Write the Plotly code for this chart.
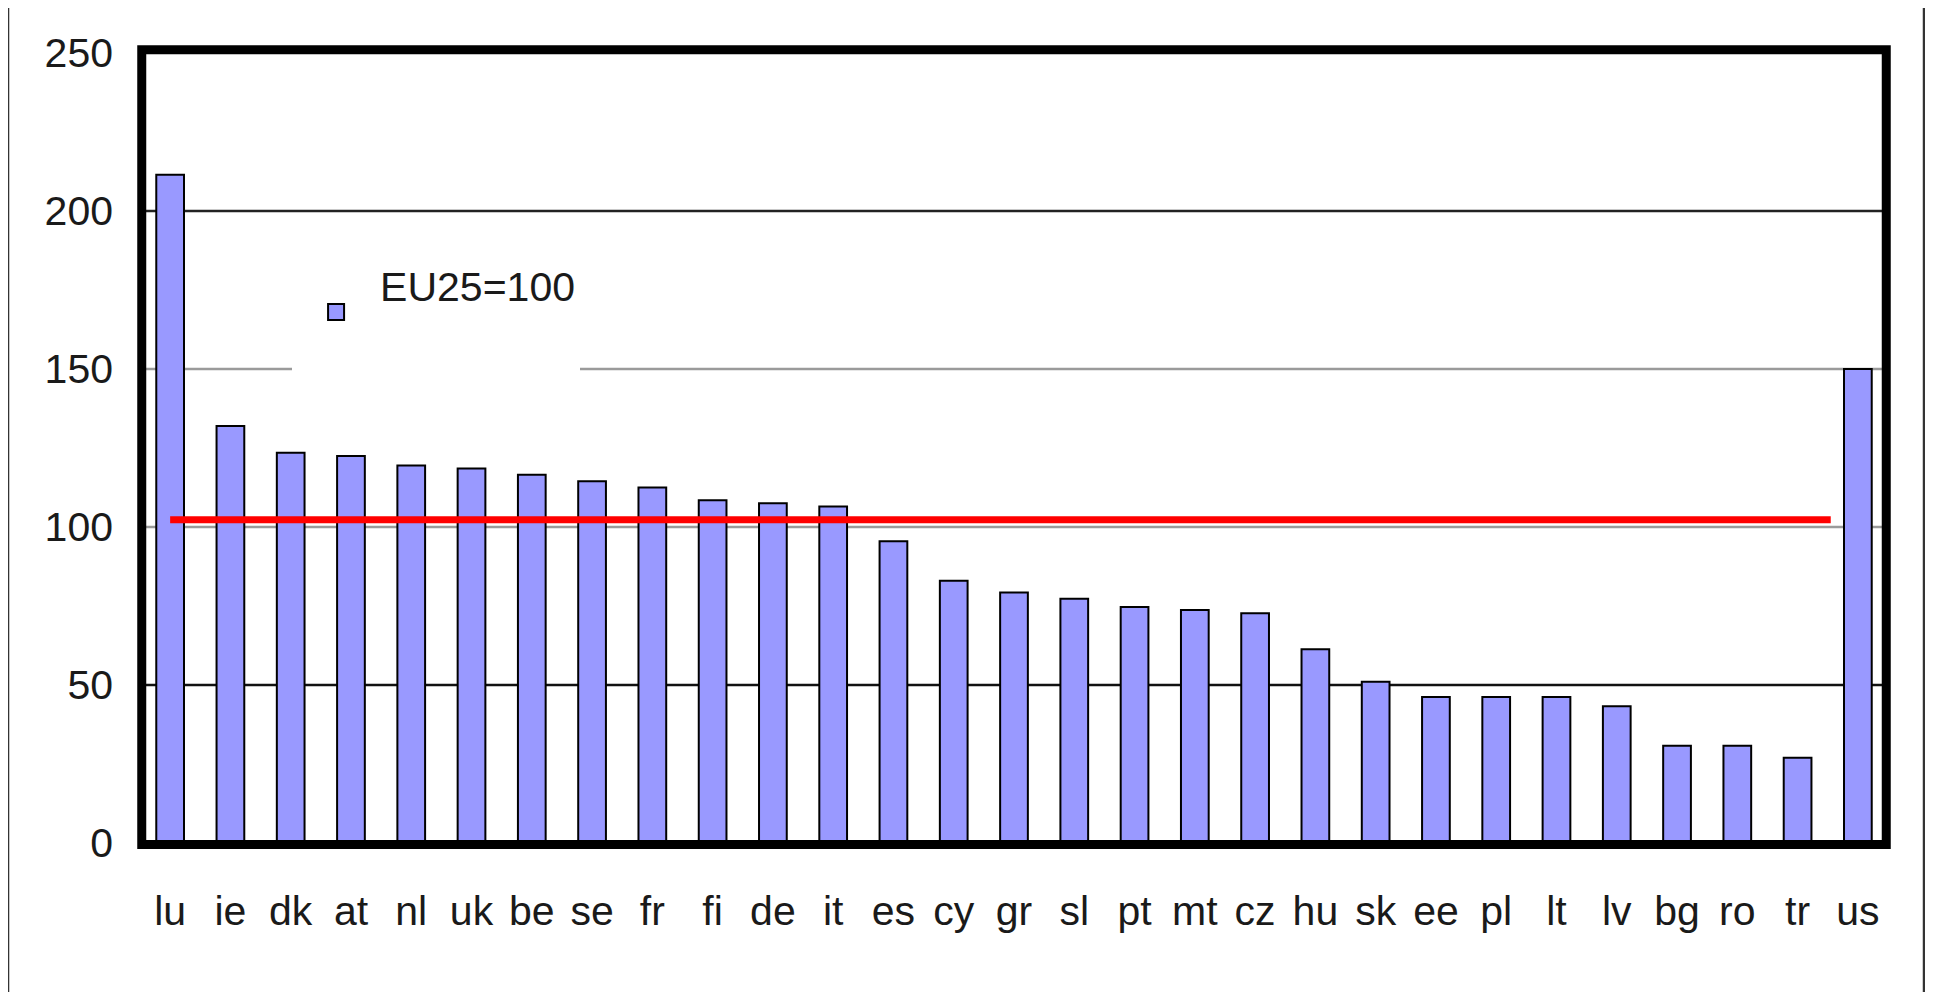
import plotly.graph_objects as go

# ---- data ----
countries = ["lu", "ie", "dk", "at", "nl", "uk", "be", "se", "fr", "fi", "de", "it",
             "es", "cy", "gr", "sl", "pt", "mt", "cz", "hu", "sk", "ee", "pl", "lt",
             "lv", "bg", "ro", "tr", "us"]
values = [211.5, 132, 123.5, 122.5, 119.5, 118.5, 116.5, 114.5, 112.5, 108.5, 107.5, 106.5,
          95.5, 83, 79.3, 77.3, 74.7, 73.7, 72.7, 61.3, 51, 46.2, 46.2, 46.2,
          43.3, 30.8, 30.8, 27, 150]
series_name = "EU25=100"
reference_value = 102.3
reference_span = (0, 27.55)          # category-index extent of the red reference line
y_ticks = [0, 50, 100, 150, 200, 250]
grid_levels = [50, 100, 150, 200]
grid_colors = ["#111111", "#9a9a9a", "#9a9a9a", "#222222"]

FONT = "Liberation Sans Narrow, Arial Narrow, Liberation Sans, Arial, sans-serif"
FS = 41
BAR_COLOR = "#9999FF"

fig = go.Figure()
fig.add_trace(go.Bar(
    x=countries, y=values, name=series_name,
    marker=dict(color=BAR_COLOR, line=dict(color="#000000", width=2)),
    width=0.46, showlegend=False,
))
# legend key for the bar series (larger square than the default bar legend icon)
fig.add_trace(go.Scatter(
    x=[None], y=[None], mode="markers", name=series_name + "<br> ",
    marker=dict(symbol="square", size=16, color=BAR_COLOR, line=dict(color="#000000", width=2)),
    showlegend=True, hoverinfo="skip",
))

shapes = []
for lvl, col in zip(grid_levels, grid_colors):
    shapes.append(dict(type="line", xref="paper", yref="y", x0=0, x1=1, y0=lvl, y1=lvl,
                       line=dict(color=col, width=2.5), layer="between"))
# red reference line
shapes.append(dict(type="line", xref="x", yref="y", x0=reference_span[0], x1=reference_span[1],
                   y0=reference_value, y1=reference_value,
                   line=dict(color="#FF0000", width=7), layer="above"))
# thick chart frame
shapes.append(dict(type="rect", xref="paper", yref="paper", x0=0.001, x1=0.999, y0=-0.002, y1=1.004,
                   line=dict(color="#000000", width=9), fillcolor="rgba(0,0,0,0)", layer="above"))
# page border lines
for xp in (-0.0755, 1.0206):
    shapes.append(dict(type="line", xref="paper", yref="paper", x0=xp, x1=xp, y0=1.057, y1=-0.2,
                       line=dict(color="#333333", width=2.5), layer="above"))

fig.update_layout(
    width=1925, height=984,
    margin=dict(l=132, r=45, t=45, b=149),
    paper_bgcolor="white", plot_bgcolor="white",
    font=dict(family=FONT, size=FS, color="#1a1a1a"),
    shapes=shapes,
    showlegend=True,
    legend=dict(x=0.087, y=0.748, xanchor="left", yanchor="top",
                bgcolor="white", borderwidth=0, itemwidth=78, valign="middle",
                font=dict(family=FONT, size=FS, color="#1a1a1a")),
    xaxis=dict(type="category", range=[-0.5, len(countries) - 0.5], showgrid=False,
               zeroline=False, showline=False, ticks="", ticklabelstandoff=40,
               tickfont=dict(family=FONT, size=FS, color="#1a1a1a")),
    yaxis=dict(range=[0, 250], tickvals=y_ticks, showgrid=False, zeroline=False,
               showline=False, ticks="", ticklabelstandoff=26,
               tickfont=dict(family=FONT, size=FS, color="#1a1a1a")),
)

fig.write_html("out.html")
